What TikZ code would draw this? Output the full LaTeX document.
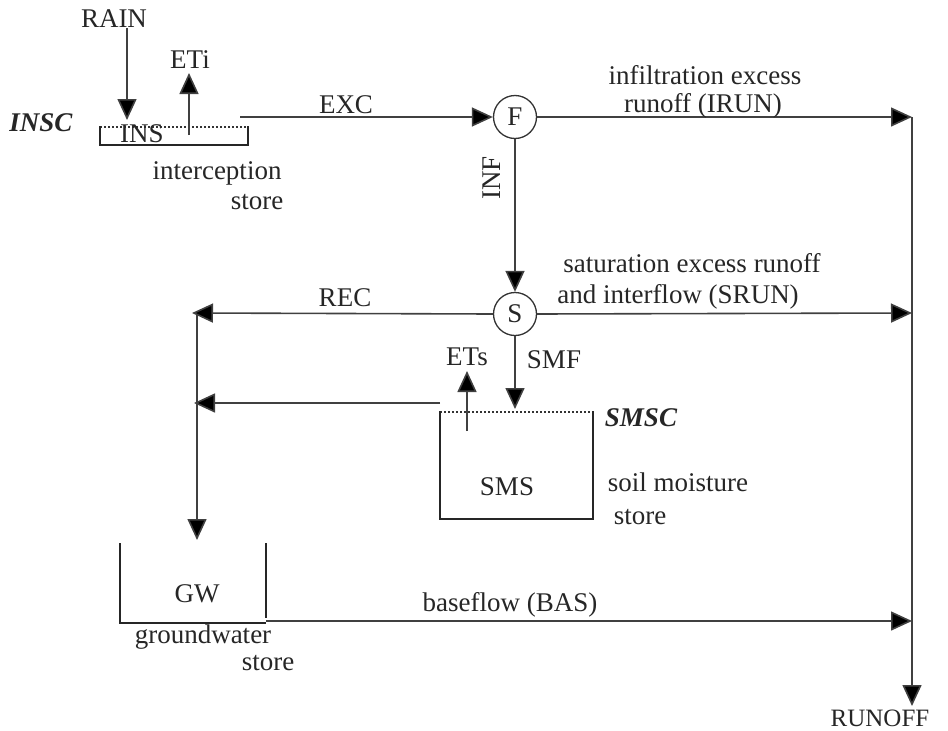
\documentclass[tikz,border=0pt]{standalone}
\usepackage{fontspec}
\setmainfont{Liberation Serif}
\usetikzlibrary{arrows.meta}
\begin{document}
\begin{tikzpicture}[x=1pt,y=-1pt,
  every node/.style={font=\fontsize{27}{31}\selectfont, text=black!85, inner sep=0pt},
  flow/.style={line width=1.6pt, draw=black!75, -{Triangle[length=21pt,width=19pt,fill=black]}},
  wall/.style={line width=2.8pt, draw=black!85},
  lvl/.style={line width=2pt, dotted, draw=black!80},
  junc/.style={circle, draw=black!80, line width=1.3pt, minimum size=43pt},
  bi/.style={font=\fontsize{27}{31}\selectfont\bfseries\itshape}]
\useasboundingbox (0,0) rectangle (948,731);

% interception store
\node (rain) at (114,19) {RAIN};
\node (eti) at (190,60) {ETi};
\node[bi] (insc) at (41,123) {INSC};
\draw[lvl] (100,127) -- (248,127);
\draw[wall] (100,126) -- (100,145) -- (248,145) -- (248,126);
\node (ins) at (142,134) {INS};
\coordinate (rainend) at (127,120);
\coordinate (etistart) at (189,135);
\coordinate (etiend) at (189,73);
\draw[flow] (rain.south -| rainend) -- (rainend);
\draw[flow] (etistart) -- (etiend);
\node (intc) at (217,173) {interception};
\node (intst) at (257,202) {store};

% junction F
\node[junc] (F) at (515,117) {F};
\coordinate (excstart) at (240,117);
\draw[flow] (excstart) -- (F.west);
\node (exc) at (346,105) {EXC};
\coordinate (irunend) at (912,117);
\draw[flow] (F.east) -- (irunend);
\node (irun1) at (705,75) {infiltration excess};
\node (irun2) at (703,106) {runoff (IRUN)};

% junction S
\node[junc] (S) at (515,314) {S};
\draw[flow] (F.south) -- (S.north);
\node[rotate=90] (inf) at (492,178) {INF};
\node (srun1) at (692,263) {saturation excess runoff};
\node (srun2) at (678,297) {and interflow (SRUN)};
\coordinate (srunend) at (912,313);
\draw[flow] (S.east) -- (srunend);
\node (rec) at (345,298) {REC};
\coordinate (recend) at (192,313);
\draw[flow] (S.west) -- (recend);

% runoff line
\coordinate (rtop) at (912,117);
\coordinate (rbot) at (912,706);
\node[font=\fontsize{25}{29}\selectfont] (runoff) at (880,718) {RUNOFF};
\draw[flow] (rtop) -- (rbot);

% soil moisture store
\draw[lvl] (440,412) -- (593,412);
\draw[wall] (440,411) -- (440,519) -- (593,519) -- (593,411);
\node (sms) at (507,487) {SMS};
\node[bi] (smsc) at (641,418) {SMSC};
\node (smst1) at (678,482) {soil moisture};
\node (smst2) at (640,517) {store};
\coordinate (smfend) at (515,409);
\draw[flow] (S.south) -- (smfend);
\node (smf) at (554,360) {SMF};
\node (ets) at (467,357) {ETs};
\coordinate (etsstart) at (467,431);
\coordinate (etsend) at (467,371);
\draw[flow] (etsstart) -- (etsend);
\coordinate (percstart) at (440,403);
\coordinate (percend) at (194,403);
\draw[flow] (percstart) -- (percend);

% groundwater
\coordinate (gwtop) at (197,315);
\coordinate (gwin) at (197,540);
\draw[flow] (gwtop) -- (gwin);
\draw[wall] (120,543) -- (120,623) -- (266,623);
\draw[wall] (266,543) -- (266,618);
\node (gw) at (197,594) {GW};
\node (gwst1) at (203,637) {groundwater};
\node (gwst2) at (268,663) {store};
\coordinate (basstart) at (266,621);
\coordinate (basend) at (912,621);
\draw[flow] (basstart) -- (basend);
\node (bas) at (510,605) {baseflow (BAS)};
\end{tikzpicture}
\end{document}
